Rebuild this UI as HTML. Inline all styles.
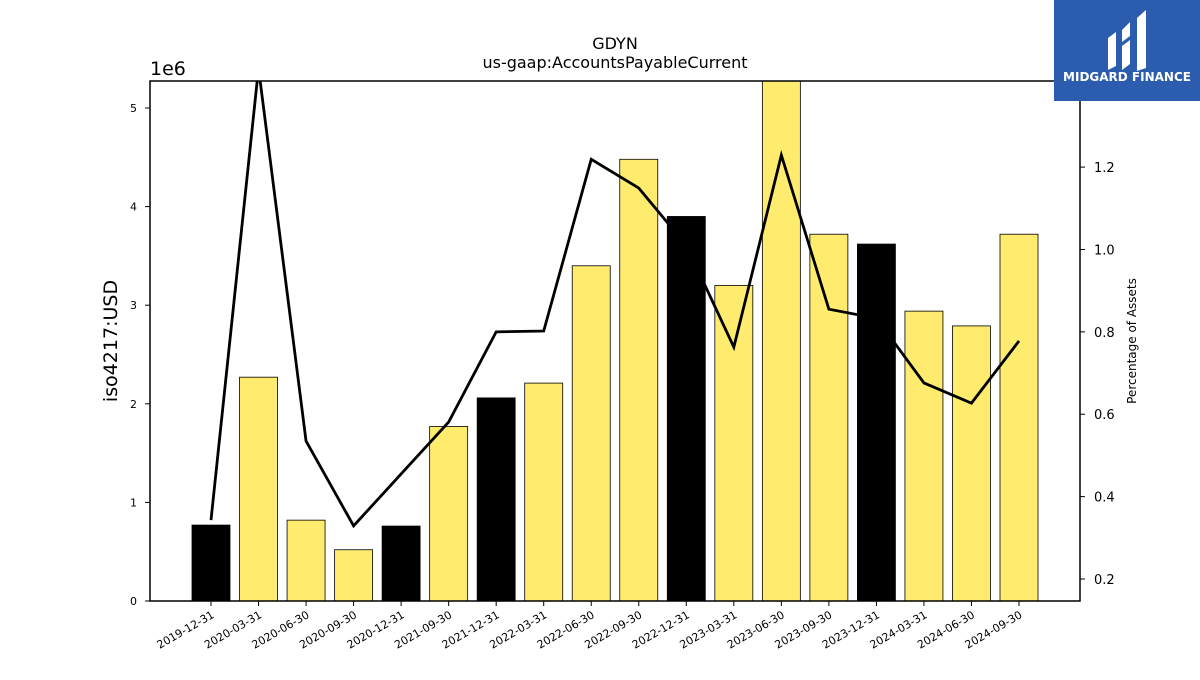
<!DOCTYPE html>
<html><head><meta charset="utf-8"><style>
body{margin:0;background:#fff;width:1200px;height:675px;overflow:hidden;font-family:"Liberation Sans","DejaVu Sans",sans-serif}
svg text{font-family:"DejaVu Sans","Liberation Sans",sans-serif}
</style></head><body>
<svg id="chart" width="1200" height="675">
<text x="615" y="49" text-anchor="middle" font-size="16">GDYN</text>
<text x="615" y="68" text-anchor="middle" font-size="16">us-gaap:AccountsPayableCurrent</text>
<text x="150" y="75" font-size="19">1e6</text>
<text transform="translate(117,341) rotate(-90)" text-anchor="middle" font-size="19">iso4217:USD</text>
<text transform="translate(1136,341) rotate(-90)" text-anchor="middle" font-size="12">Percentage of Assets</text>
<g id="bars"></g><g id="axes"></g>
<rect x="150" y="81" width="930" height="520" fill="none" stroke="#000" stroke-width="1.5"/>
<g>
<rect x="1054" y="0" width="146" height="101" fill="#2b5cad"/>
<path d="M1108 38 l8 -6 v34 l-8 4z M1122 30 l8 -8 v14 l-8 6z M1122 46 l8 -6 v24 l-8 6z M1137 18 l9 -8 v58 l-9 3z" fill="#fff"/>
<text x="1127" y="81" text-anchor="middle" font-size="12" font-weight="bold" fill="#fff">MIDGARD FINANCE</text>
</g>
</svg>
<script>
const categories=["2019-12-31","2020-03-31","2020-06-30","2020-09-30","2020-12-31","2021-09-30","2021-12-31","2022-03-31","2022-06-30","2022-09-30","2022-12-31","2023-03-31","2023-06-30","2023-09-30","2023-12-31","2024-03-31","2024-06-30","2024-09-30"];
const values=[0.77,2.27,0.82,0.52,0.76,1.77,2.06,2.21,3.40,4.48,3.90,3.20,5.40,3.72,3.62,2.94,2.79,3.72];
const pctAssets=[0.343,1.44,0.535,0.329,0.455,0.581,0.80,0.802,1.219,1.149,1.01,0.763,1.229,0.855,0.833,0.676,0.627,0.778];
const yTicks=[0,1,2,3,4,5];
const y2Ticks=[0.2,0.4,0.6,0.8,1.0,1.2];
const NS="http://www.w3.org/2000/svg";
const L=150,R=1080,T=81,B=601;
const x=i=>211+i*(808/17);
const y=v=>B-v*(B-T)/5.274;
const y2=v=>B-(v-0.1466)*(B-T)/(1.409-0.1466);
function mk(t,a,p){const e=document.createElementNS(NS,t);for(const k in a)e.setAttribute(k,a[k]);p.appendChild(e);return e;}
const bars=document.getElementById('bars'),axes=document.getElementById('axes');
const clip=mk('clipPath',{id:'pc'},bars);mk('rect',{x:L,y:T,width:R-L,height:B-T},clip);
categories.forEach((c,i)=>{
 const top=Math.max(y(values[i]),T);
 const r=mk('rect',{x:x(i)-19,y:top,width:38,height:B-top,fill:c.endsWith('12-31')?'#000':'#ffec6e',stroke:'#000','stroke-width':0.8},bars);
 
 
 const tk=mk('line',{x1:x(i),x2:x(i),y1:B,y2:B+5,stroke:'#000'},axes);
 
 
 const t=mk('text',{transform:`translate(${x(i)+4},${B+16}) rotate(-30)`,'text-anchor':'end','font-size':11},axes);
 t.textContent=c;
 
 
});
const pl=mk('polyline',{points:pctAssets.map((v,i)=>x(i)+','+y2(v)).join(' '),fill:'none',stroke:'#000','stroke-width':2.8,'clip-path':'url(#pc)'},bars);


yTicks.forEach(v=>{
 const l=mk('line',{x1:L-5,x2:L,y1:y(v),y2:y(v),stroke:'#000'},axes);
 
 
 const t=mk('text',{x:L-13,y:y(v)+4,'text-anchor':'end','font-size':11},axes);t.textContent=v;
 
 
});
y2Ticks.forEach(v=>{
 const l=mk('line',{x1:R,x2:R+5,y1:y2(v),y2:y2(v),stroke:'#000'},axes);
 
 
 const t=mk('text',{x:R+14,y:y2(v)+5,'font-size':13},axes);t.textContent=v.toFixed(1);
 
 
});
</script>
</body></html>
